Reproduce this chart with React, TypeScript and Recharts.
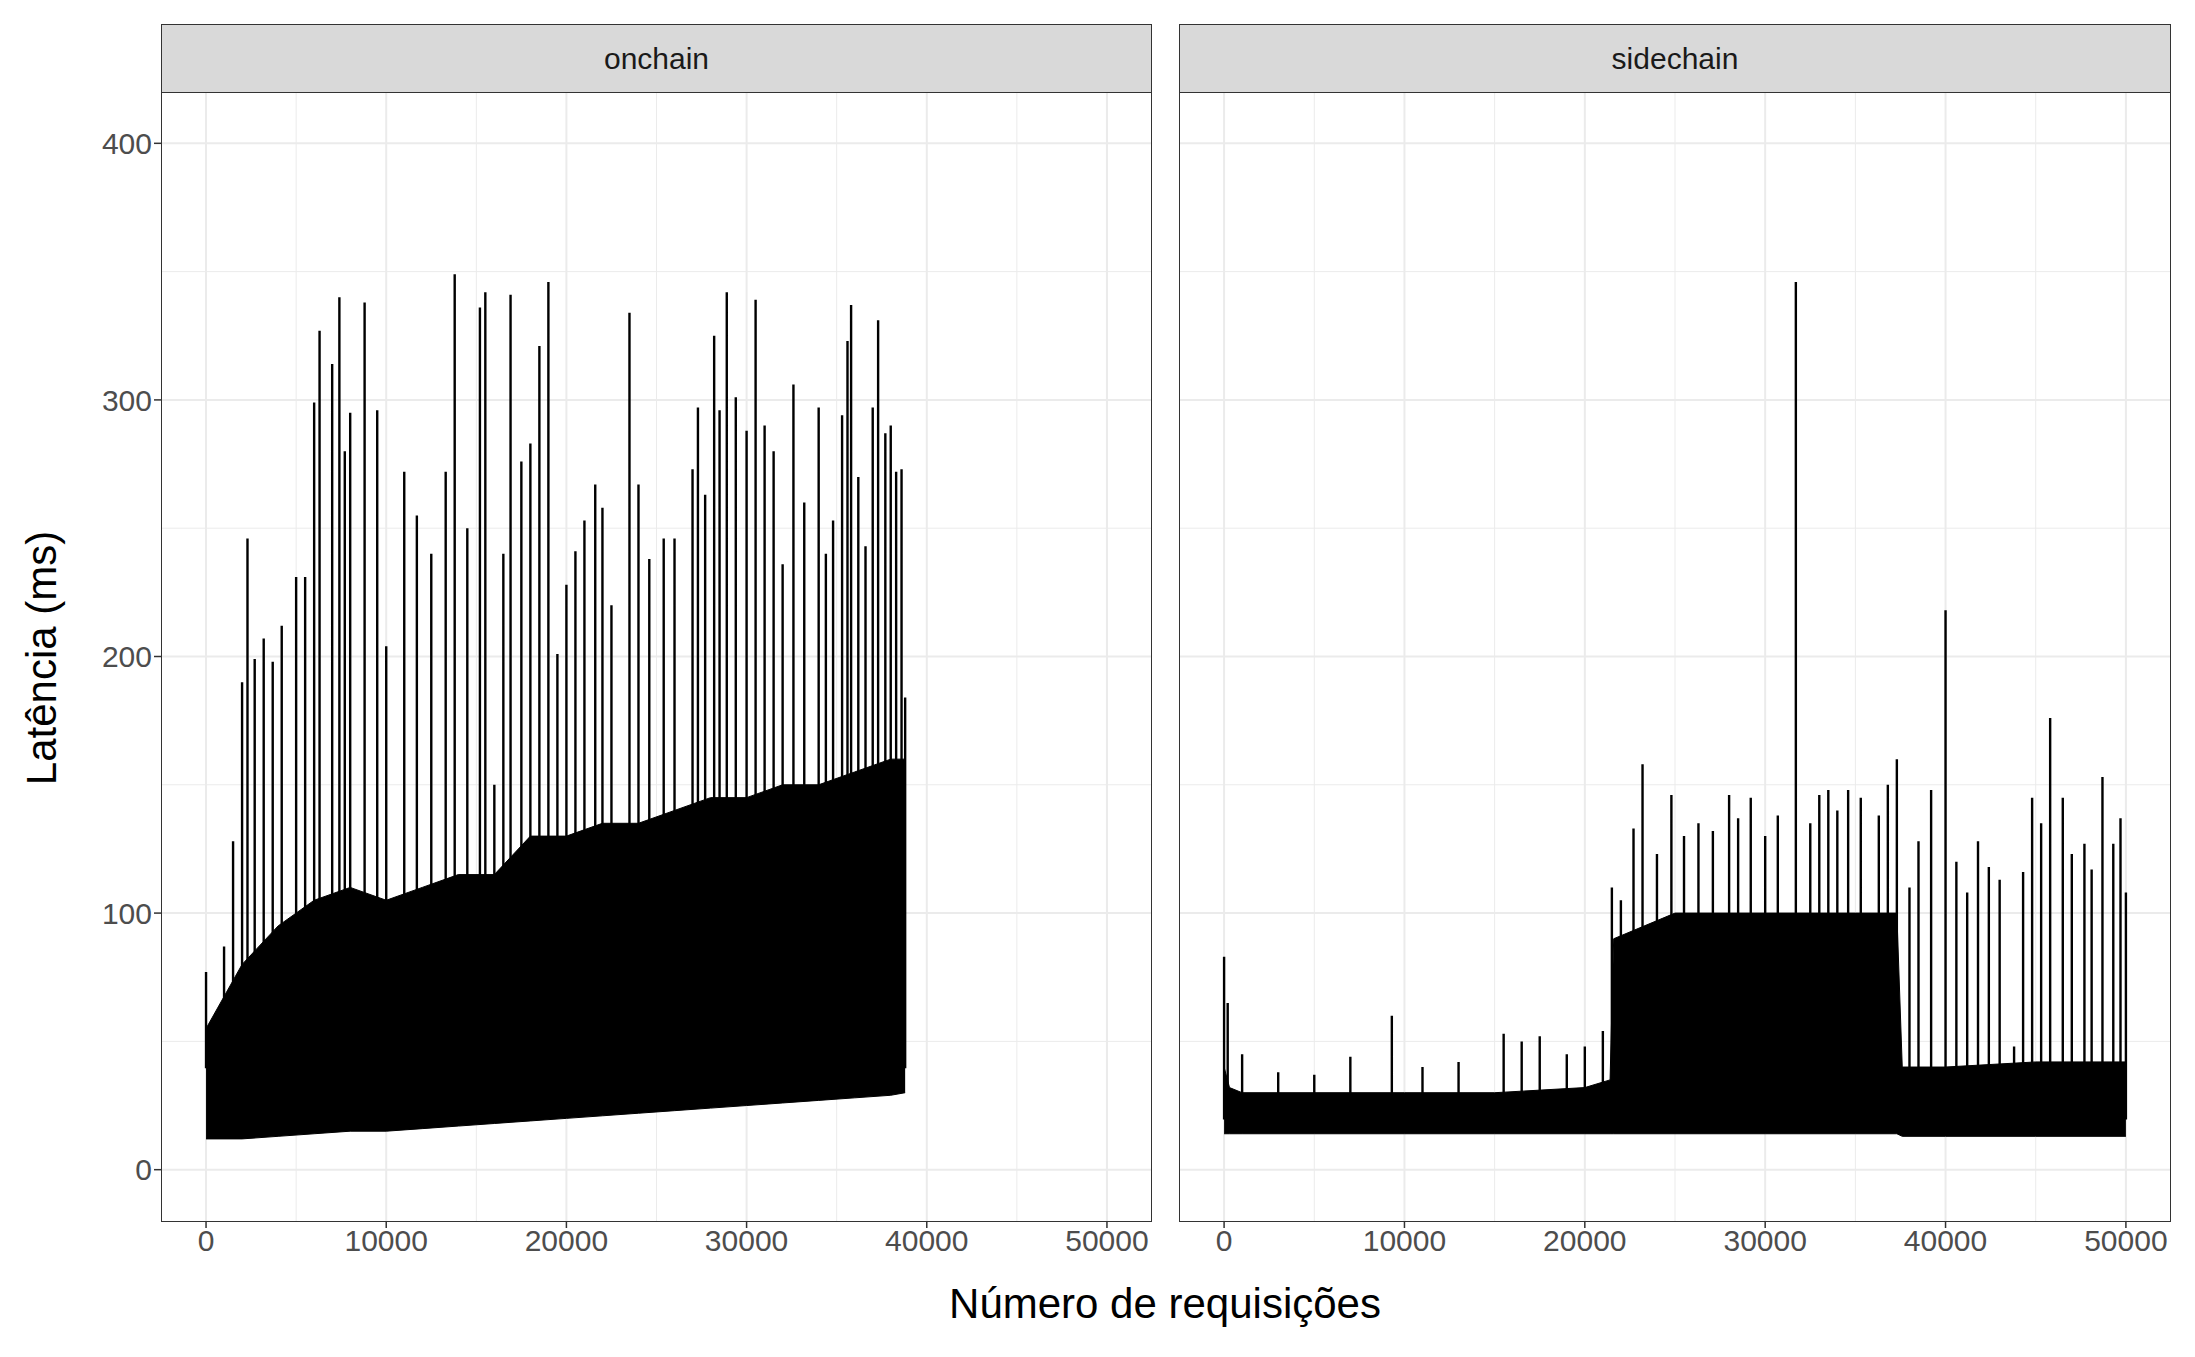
import React from "react";
import { ComposedChart, Line, Area, XAxis, YAxis, ReferenceLine } from "recharts";

const xTicks = [0, 10000, 20000, 30000, 40000, 50000];
const xMinor = [5000, 15000, 25000, 35000, 45000];
const yTicks = [0, 100, 200, 300, 400];
const yMinor = [50, 150, 250, 350];

const onBandX = [0, 2000, 4000, 6000, 8000, 10000, 12000, 14000, 16000, 18000, 20000, 22000, 24000, 26000, 28000, 30000, 32000, 34000, 36000, 38000, 38800];
const onBandLow = [12, 12, 13, 14, 15, 15, 16, 17, 18, 19, 20, 21, 22, 23, 24, 25, 26, 27, 28, 29, 30];
const onBandHigh = [55, 80, 95, 105, 110, 105, 110, 115, 115, 130, 130, 135, 135, 140, 145, 145, 150, 150, 155, 160, 160];
const onSpikeX = [0, 1000, 1500, 2000, 2300, 2700, 3200, 3700, 4200, 5000, 5500, 6000, 6300, 7000, 7400, 7700, 8000, 8800, 9500, 10000, 11000, 11700, 12500, 13300, 13800, 14500, 15200, 15500, 16000, 16500, 16900, 17500, 18000, 18500, 19000, 19500, 20000, 20500, 21000, 21600, 22000, 22500, 23500, 24000, 24600, 25400, 26000, 27000, 27300, 27700, 28200, 28500, 28900, 29400, 30000, 30500, 31000, 31500, 32000, 32600, 33200, 34000, 34400, 34800, 35300, 35600, 35800, 36200, 36600, 37000, 37300, 37700, 38000, 38300, 38600, 38800];
const onSpikeY = [77, 87, 128, 190, 246, 199, 207, 198, 212, 231, 231, 299, 327, 314, 340, 280, 295, 338, 296, 204, 272, 255, 240, 272, 349, 250, 336, 342, 150, 240, 341, 276, 283, 321, 346, 201, 228, 241, 253, 267, 258, 220, 334, 267, 238, 246, 246, 273, 297, 263, 325, 296, 342, 301, 288, 339, 290, 280, 236, 306, 260, 297, 240, 253, 294, 323, 337, 270, 243, 297, 331, 287, 290, 272, 273, 184];

const sideBandX = [0, 300, 1000, 5000, 10000, 15000, 20000, 21400, 21600, 25000, 30000, 35000, 37300, 37600, 40000, 45000, 50000];
const sideBandLow = [14, 14, 14, 14, 14, 14, 14, 14, 14, 14, 14, 14, 14, 13, 13, 13, 13];
const sideBandHigh = [40, 32, 30, 30, 30, 30, 32, 35, 90, 100, 100, 100, 100, 40, 40, 42, 42];
const sideSpikeX = [0, 200, 1000, 3000, 5000, 7000, 9300, 11000, 13000, 15500, 16500, 17500, 19000, 20000, 21000, 21500, 22000, 22700, 23200, 24000, 24800, 25500, 26300, 27100, 28000, 28500, 29200, 30000, 30700, 31700, 32500, 33000, 33500, 34000, 34600, 35300, 36300, 36800, 37300, 38000, 38500, 39200, 40000, 40600, 41200, 41800, 42400, 43000, 43800, 44300, 44800, 45300, 45800, 46500, 47000, 47700, 48100, 48700, 49300, 49700, 50000];
const sideSpikeY = [83, 65, 45, 38, 37, 44, 60, 40, 42, 53, 50, 52, 45, 48, 54, 110, 105, 133, 158, 123, 146, 130, 135, 132, 146, 137, 145, 130, 138, 346, 135, 146, 148, 140, 148, 145, 138, 150, 160, 110, 128, 148, 218, 120, 108, 128, 118, 113, 48, 116, 145, 135, 176, 145, 123, 127, 117, 153, 127, 137, 108];

const band = (xs: number[], lo: number[], hi: number[]) => xs.map((x, i) => ({ x, r: [lo[i], hi[i]] }));
const spikes = (xs: number[], ys: number[], base: number) => {
  const out: { x: number; y: number }[] = [];
  xs.forEach((x, i) => {
    out.push({ x, y: base });
    out.push({ x, y: ys[i] });
    out.push({ x, y: base });
  });
  return out;
};

const FONT = "Liberation Sans, Arial, sans-serif";
const PLOT_TOP = 92;
const PLOT_BOTTOM = 1221;
const H = 1357;
const TICK = { fill: "#4d4d4d", fontSize: 30, fontFamily: FONT };

function Axes({ showY, yAxisW, noText }: any) {
  const tick = noText ? false : TICK;
  return (
    <>
      <XAxis dataKey="x" type="number" domain={[-2500, 52500]} ticks={xTicks} allowDataOverflow
        height={50} axisLine={false} tickLine={noText ? false : { stroke: "#333", strokeWidth: 1.5 }} tickSize={7}
        tick={tick} interval={0} />
      <YAxis type="number" domain={[-20, 420]} ticks={yTicks} allowDataOverflow hide={!showY}
        width={yAxisW || 60} axisLine={false} tickLine={noText ? false : { stroke: "#333", strokeWidth: 1.5 }} tickSize={7}
        tick={tick} interval={0} />
    </>
  );
}

function Panel({ left, width, showY, bandData, spikeData, label }: any) {
  const yAxisW = showY ? 161 : 0;
  const margin = { top: PLOT_TOP, bottom: H - PLOT_BOTTOM - 50, left: 0, right: 0 };
  const dummy = [{ x: 0 }];
  return (
    <>
      <div style={{ position: "absolute", left: left - yAxisW, top: 0 }}>
        <ComposedChart width={width + yAxisW} height={H} margin={margin} data={dummy}>
          {Axes({ showY, yAxisW, noText: true })}
          {xMinor.map((v) => <ReferenceLine key={"xm" + v} x={v} stroke="#ebebeb" strokeWidth={1} />)}
          {yMinor.map((v) => <ReferenceLine key={"ym" + v} y={v} stroke="#ebebeb" strokeWidth={1} />)}
          {xTicks.map((v) => <ReferenceLine key={"x" + v} x={v} stroke="#ebebeb" strokeWidth={2} />)}
          {yTicks.map((v) => <ReferenceLine key={"y" + v} y={v} stroke="#ebebeb" strokeWidth={2} />)}
        </ComposedChart>
      </div>
      <div style={{ position: "absolute", left: left - yAxisW, top: 0 }}>
        <ComposedChart width={width + yAxisW} height={H} margin={margin}>
          {Axes({ showY, yAxisW, noText: false })}
          <Area data={bandData} dataKey="r" type="linear" stroke="#000" strokeWidth={1} fill="#000" fillOpacity={1} isAnimationActive={false} />
          <Line data={spikeData} dataKey="y" type="linear" stroke="#000" strokeWidth={2.4} dot={false} isAnimationActive={false} />
        </ComposedChart>
      </div>
      <div style={{ position: "absolute", left, top: PLOT_TOP, width: width - 2, height: PLOT_BOTTOM - PLOT_TOP - 1, border: "1.5px solid #333", pointerEvents: "none" }} />
      <div style={{ position: "absolute", left, top: 24, width: width - 2, height: PLOT_TOP - 24 - 1, border: "1.5px solid #333", background: "#d9d9d9",
        display: "flex", alignItems: "center", justifyContent: "center", fontFamily: FONT, fontSize: 30, color: "#1a1a1a" }}>{label}</div>
    </>
  );
}

export default function App() {
  return (
    <div style={{ position: "absolute", left: 0, top: 0, width: 2195, height: H, background: "#fff", fontFamily: FONT }}>
      <Panel left={161} width={991} showY bandData={band(onBandX, onBandLow, onBandHigh)} spikeData={spikes(onSpikeX, onSpikeY, 40)} label="onchain" />
      <Panel left={1179} width={992} showY={false} bandData={band(sideBandX, sideBandLow, sideBandHigh)} spikeData={spikes(sideSpikeX, sideSpikeY, 20)} label="sidechain" />
      <div style={{ position: "absolute", left: 0, width: 2195, top: 1280, textAlign: "center", paddingLeft: 135, boxSizing: "border-box", fontSize: 42, color: "#000" }}>Número de requisições</div>
      <div style={{ position: "absolute", left: 42, top: 658, transform: "translate(-50%,-50%) rotate(-90deg)", fontSize: 42, color: "#000", whiteSpace: "nowrap" }}>Latência (ms)</div>
    </div>
  );
}
